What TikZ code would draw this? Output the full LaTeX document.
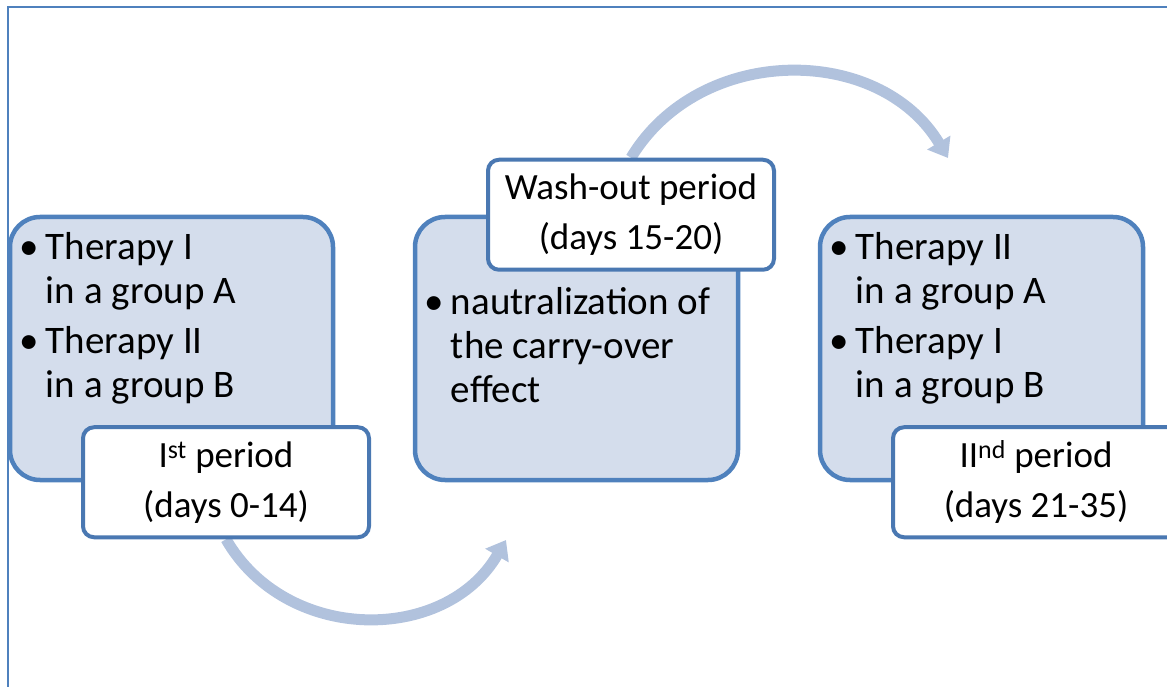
\documentclass[tikz,border=0pt]{standalone}
\usepackage{fontspec}
\setmainfont{Carlito}
\usetikzlibrary{positioning,calc,arrows.meta,backgrounds}

\definecolor{phasefill}{HTML}{D4DDEC}
\definecolor{phaseline}{HTML}{4F81BD}
\definecolor{labelline}{HTML}{4A78B2}
\definecolor{flowblue}{HTML}{B1C2DD}

% bullet item with hanging second line
\newcommand{\bitem}[2]{\makebox[34pt][c]{\textbullet}#1\\\hspace*{34pt}#2}

\begin{document}
\begin{tikzpicture}[x=1pt, y=1pt, node distance=77.5pt,
    phase/.style={rectangle, draw=phaseline, fill=phasefill, line width=4.5pt, rounded corners=30pt, minimum width=323pt, minimum height=263pt},
    period/.style={rectangle, draw=labelline, fill=white, line width=4pt, rounded corners=11pt, minimum width=286pt, minimum height=110pt, align=center, font=\fontsize{37}{50}\selectfont},
    items/.style={anchor=base west, align=left, inner sep=0pt, font=\fontsize{39}{44}\selectfont},
    flow/.style={draw=flowblue, line width=11pt, -{Triangle[length=18pt, width=26pt]}}]
    \useasboundingbox (0,0) rectangle (1167,686);

    % the three phases
    \node[phase] (first) at (171.5,337.5) {};
    \node[phase, right=of first] (wash) {};
    \node[phase, right=of wash] (second) {};

    % base anchor sits on the last line
    \node[items] (firsttxt) at ($(first.north west)+(4,-183)$) {\bitem{Therapy I}{in a group A}\\[6pt]\bitem{Therapy II}{in a group B}};
    \node[items] (washtxt) at ($(wash.north west)+(4,-188)$) {\bitem{nautralization of}{the carry-over}\\\hspace*{34pt}effect};
    \node[items] (secondtxt) at ($(second.north west)+(4,-183)$) {\bitem{Therapy II}{in a group A}\\[6pt]\bitem{Therapy I}{in a group B}};

    % period labels
    \node[period] (firstlab) at ($(first.south)+(54.5,0)$) {I\textsuperscript{st} period\\(days 0-14)};
    \node[period] (washlab) at ($(wash.north)+(54.5,0)$) {Wash-out period\\(days 15-20)};
    \node[period] (secondlab) at ($(second.south)+(54.5,0)$) {II\textsuperscript{nd} period\\(days 21-35)};

    \coordinate (tipa) at (506,146);
    \coordinate (tipb) at (948,528);

    \begin{scope}[on background layer]
        \draw[phaseline, line width=2pt] (8,-20) -- (8,679) -- (1190,679);
        \draw[flow] (firstlab.south) to[bend right=60, looseness=1.1] (tipa);
        \draw[flow] (washlab.north) to[bend left=59, looseness=1.08] (tipb);
    \end{scope}
\end{tikzpicture}
\end{document}
